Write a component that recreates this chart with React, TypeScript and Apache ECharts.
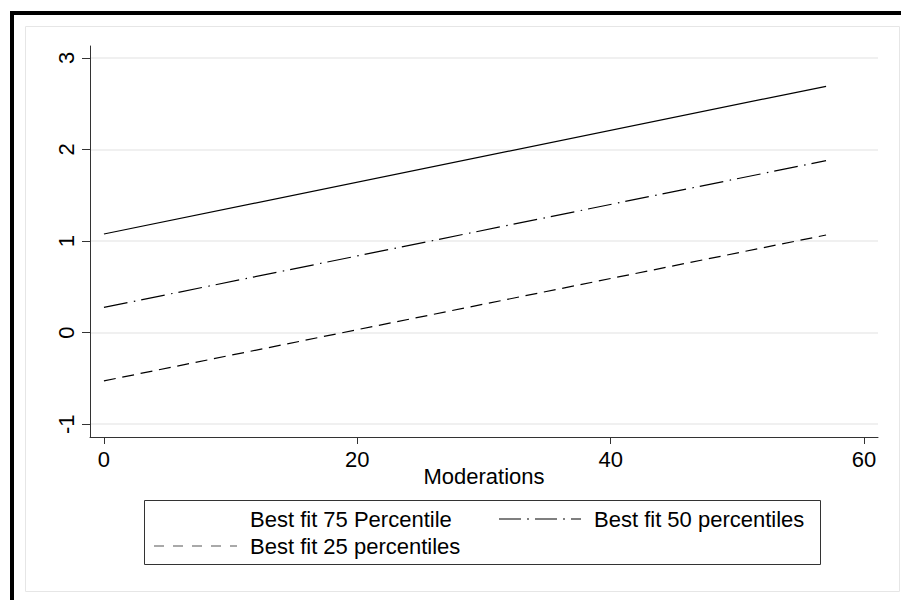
import React, { useEffect, useRef } from "react";
import * as echarts from "echarts";

// Moderations (x) at the two ends of each fitted line
const moderations = [0, 57];
// Fitted values
const fit75 = [1.077, 2.69];
const fit50 = [0.275, 1.878];
const fit25 = [-0.527, 1.066];

const xTicks = [0, 20, 40, 60];
const yTicks = [-1, 0, 1, 2, 3];

const seriesNames = [
  "Best fit 75 Percentile",
  "Best fit 50 percentiles",
  "Best fit 25 percentiles",
];
const xTitle = "Moderations";

const FONT = "'Liberation Sans', Arial, Helvetica, sans-serif";
const FS = 22;

export default function App() {
  const ref = useRef<HTMLDivElement>(null);

  useEffect(() => {
    if (!ref.current) return;
    const chart = echarts.init(ref.current, undefined, { renderer: "svg" });

    const toPts = (ys: number[]) => moderations.map((x, i) => [x, ys[i]]);
    const dash50 = [24, 6.5, 1.5, 6];
    const dash25 = [12, 6.7];

    const option: any = {
      animation: false,
      backgroundColor: "#ffffff",
      textStyle: { fontFamily: FONT },
      grid: {
        left: 90,
        right: 23,
        top: 46,
        bottom: 163,
        containLabel: false,
        outerBoundsMode: "none",
      },
      xAxis: {
        type: "value",
        min: -1.1,
        max: 61.1,
        name: xTitle,
        nameLocation: "middle",
        nameGap: 28,
        nameMoveOverlap: false,
        nameTextStyle: { fontSize: FS, color: "#000", fontFamily: FONT },
        axisLine: { show: true, onZero: false, lineStyle: { color: "#333", width: 1 } },
        axisTick: { show: true, length: 7, customValues: xTicks, lineStyle: { color: "#333", width: 1 } },
        axisLabel: { customValues: xTicks, fontSize: FS, color: "#000", margin: 11, fontFamily: FONT },
        splitLine: { show: false },
      },
      yAxis: {
        type: "value",
        min: -1.14,
        max: 3.13,
        axisLine: { show: true, onZero: false, lineStyle: { color: "#333", width: 1 } },
        axisTick: { show: true, length: 8, customValues: yTicks, lineStyle: { color: "#333", width: 1 } },
        axisLabel: { customValues: yTicks, rotate: 90, fontSize: FS, color: "#000", margin: 13, fontFamily: FONT },
        splitLine: { show: true, lineStyle: { color: "#ebebeb", width: 1.5 } },
      },
      series: [
        {
          name: seriesNames[0],
          type: "line",
          symbol: "none",
          silent: true,
          data: toPts(fit75),
          lineStyle: { color: "#000", width: 1.2, type: "solid" },
        },
        {
          name: seriesNames[1],
          type: "line",
          symbol: "none",
          silent: true,
          data: toPts(fit50),
          lineStyle: { color: "#000", width: 1.2, type: dash50 },
        },
        {
          name: seriesNames[2],
          type: "line",
          symbol: "none",
          silent: true,
          data: toPts(fit25),
          lineStyle: { color: "#000", width: 1.2, type: dash25 },
        },
      ],
      graphic: [
        {
          type: "rect",
          z: -10,
          silent: true,
          shape: { x: 25.5, y: 26.5, width: 874, height: 565 },
          style: { fill: "#ffffff", stroke: "#e6e6e6", lineWidth: 1 },
        },
        {
          type: "rect",
          silent: true,
          shape: { x: 10, y: 11, width: 891, height: 4 },
          style: { fill: "#000" },
        },
        {
          type: "rect",
          silent: true,
          shape: { x: 10, y: 11, width: 4, height: 589 },
          style: { fill: "#000" },
        },
        {
          type: "rect",
          silent: true,
          shape: { x: 144.5, y: 500.5, width: 676, height: 64 },
          style: { fill: "none", stroke: "#333", lineWidth: 1 },
        },
        {
          type: "text",
          silent: true,
          x: 250,
          y: 519,
          style: { text: seriesNames[0], fontSize: FS, fill: "#000", fontFamily: FONT, verticalAlign: "middle" },
        },
        {
          type: "line",
          silent: true,
          shape: { x1: 499, y1: 519, x2: 581, y2: 519 },
          style: { stroke: "#000", lineWidth: 1.2, lineDash: [22, 6, 2, 6] },
        },
        {
          type: "text",
          silent: true,
          x: 594,
          y: 519,
          style: { text: seriesNames[1], fontSize: FS, fill: "#000", fontFamily: FONT, verticalAlign: "middle" },
        },
        {
          type: "line",
          silent: true,
          shape: { x1: 154, y1: 546, x2: 237, y2: 546 },
          style: { stroke: "#555", lineWidth: 1.2, lineDash: [10, 9] },
        },
        {
          type: "text",
          silent: true,
          x: 250,
          y: 546,
          style: { text: seriesNames[2], fontSize: FS, fill: "#000", fontFamily: FONT, verticalAlign: "middle" },
        },
      ],
    };

    chart.setOption(option);
    return () => chart.dispose();
  }, []);

  return (
    <div
      ref={ref}
      style={{ position: "fixed", left: 0, top: 0, width: 901, height: 600, background: "#fff" }}
    />
  );
}
